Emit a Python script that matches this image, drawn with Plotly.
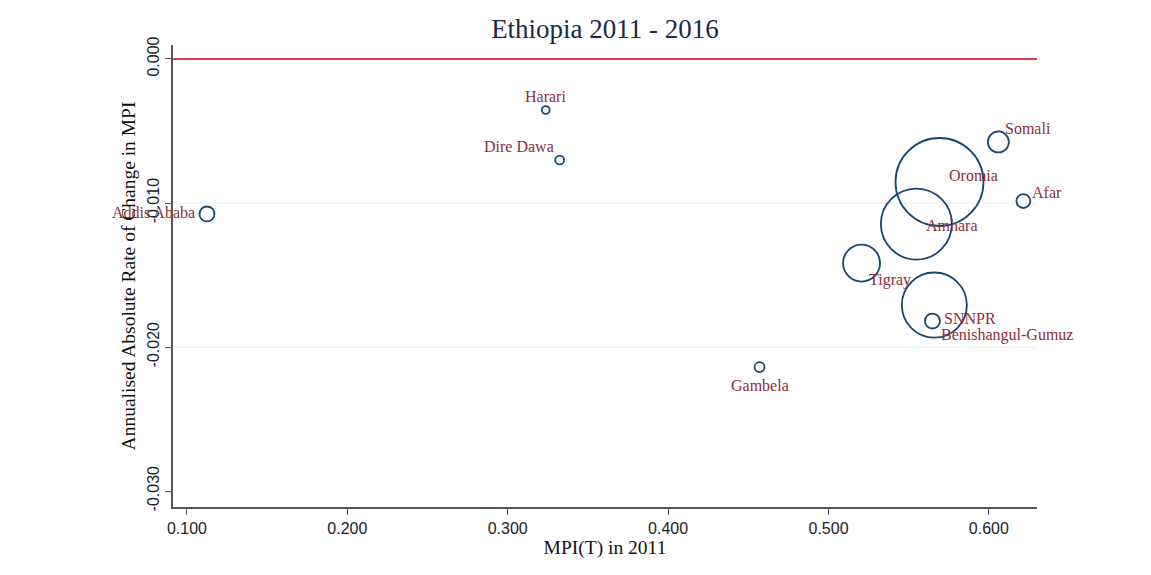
import plotly.graph_objects as go

# ---- data ----
regions = ["Addis Ababa", "Harari", "Dire Dawa", "Somali", "Oromia", "Afar",
           "Amhara", "Tigray", "SNNPR", "Benishangul-Gumuz", "Gambela"]
mpi_2011 = [0.1125, 0.3237, 0.3324, 0.6059, 0.5692, 0.6215,
            0.5548, 0.5206, 0.5660, 0.5648, 0.4570]
annual_change = [-0.01076, -0.00354, -0.00701, -0.00576, -0.00854, -0.00986,
                 -0.01146, -0.01417, -0.01708, -0.01819, -0.02139]
pop_weight = [2.9, 0.8, 1.0, 5.7, 100.0, 2.5, 65.1, 17.7, 54.6, 2.9, 1.3]

x_ticks = [0.1, 0.2, 0.3, 0.4, 0.5, 0.6]
x_tick_text = ["0.100", "0.200", "0.300", "0.400", "0.500", "0.600"]
y_ticks = [0.0, -0.01, -0.02, -0.03]
y_tick_text = ["0.000", "-0.010", "-0.020", "-0.030"]
grid_vals = [-0.01, -0.02]

# ---- styles ----
SERIF = "Liberation Serif, Times New Roman, serif"
SANS = "Liberation Sans, Arial, sans-serif"
NAVY = "#1a476f"
LABEL_COL = "#8c2f38"
MAX_DIAM = 88

# label placement (anchor, xshift, yshift) per region, like Stata clock positions
label_pos = {
    "Addis Ababa": ("right", -10, 1),
    "Harari": ("center", 0, 13),
    "Dire Dawa": ("right", -4, 13),
    "Somali": ("left", 5, 13),
    "Oromia": ("left", 8, 7),
    "Afar": ("left", 7, 9),
    "Amhara": ("left", 8, -1),
    "Tigray": ("left", 5, -17),
    "SNNPR": ("left", 8, -13),
    "Benishangul-Gumuz": ("left", 7, -14),
    "Gambela": ("center", 0, -18),
}

fig = go.Figure()

for g in grid_vals:
    fig.add_hline(y=g, line=dict(color="#e8eff1", width=1), layer="below")
fig.add_hline(y=0, line=dict(color="#d43f55", width=2), layer="below")

fig.add_trace(go.Scatter(
    x=mpi_2011, y=annual_change, mode="markers",
    marker=dict(size=pop_weight, sizemode="area", opacity=1,
                sizeref=2 * max(pop_weight) / MAX_DIAM ** 2,
                color="rgba(0,0,0,0)", line=dict(color=NAVY, width=1.8)),
    text=regions, hoverinfo="text", showlegend=False,
))

for name, xv, yv in zip(regions, mpi_2011, annual_change):
    anchor, xs, ys = label_pos[name]
    fig.add_annotation(x=xv, y=yv, text=name, showarrow=False,
                       xanchor=anchor, yanchor="middle", xshift=xs, yshift=ys,
                       font=dict(family=SERIF, size=16, color=LABEL_COL))

fig.update_layout(
    width=1135, height=559,
    margin=dict(l=165, r=106, t=37, b=60),
    paper_bgcolor="white", plot_bgcolor="white",
    title=dict(text="Ethiopia 2011 - 2016", xref="paper", x=0.5,
               xanchor="center", y=0.964, yanchor="middle",
               font=dict(family=SERIF, size=27, color="#1a2a48")),
    xaxis=dict(range=[0.0913, 0.630], tickvals=x_ticks, ticktext=x_tick_text,
               showgrid=False, zeroline=False, showline=True, linecolor="#555",
               linewidth=1.5, ticks="outside", ticklen=6, tickcolor="#555",
               tickfont=dict(family=SANS, size=16, color="#222"),
               title=dict(text="MPI(T) in 2011", standoff=2,
                          font=dict(family=SERIF, size=19.5, color="#111"))),
    yaxis=dict(range=[-0.0311, 0.00097], tickvals=y_ticks, ticktext=y_tick_text,
               showgrid=False, zeroline=False, showline=True, linecolor="#555",
               linewidth=1.5, ticks="outside", ticklen=6, tickcolor="#555",
               tickangle=-90,
               tickfont=dict(family=SANS, size=16, color="#222"),
               title=dict(text="Annualised Absolute Rate of Change in MPI",
                          standoff=4,
                          font=dict(family=SERIF, size=19.5, color="#111"))),
)

fig.write_html("out.html")
